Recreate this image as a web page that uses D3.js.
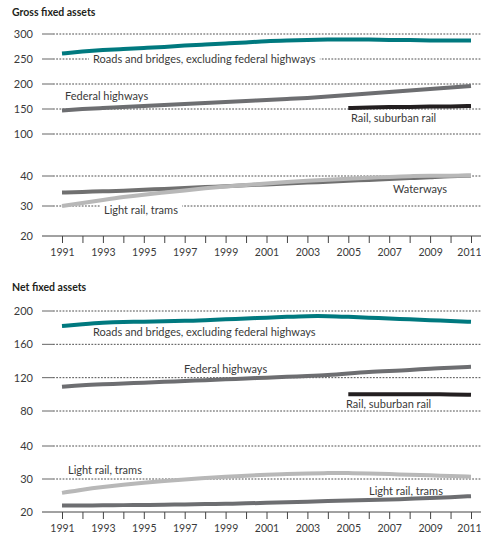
<!DOCTYPE html>
<html>
<head>
<meta charset="utf-8">
<script src="https://cdn.jsdelivr.net/npm/d3@7"></script>
<style>
    body { margin: 0; background: #fff; }
    svg { display: block; font-family: Lato, 'Open Sans', sans-serif; }
</style>
</head>
<body>
<svg width="481" height="542"></svg>
<script>
const years = d3.range(1991, 2012)
const railYears = d3.range(2005, 2012)
const yearLabels = d3.range(1991, 2012, 2)

// Gross fixed assets
const grossTicks = [20, 30, 40, 100, 150, 200, 250, 300]
const grossRoads = [261, 265, 268, 270, 272, 274, 277, 279, 281, 283, 286, 287, 288, 289, 289, 289, 288, 288, 287, 287, 287]
const grossFederal = [147, 150, 152, 154, 156, 158, 160, 162, 164, 166, 168, 170, 172, 175, 178, 181, 184, 187, 190, 193, 196]
const grossRail = [152, 153, 154, 154, 155, 155, 156]
const grossWaterways = [34.5, 34.7, 34.9, 35.1, 35.4, 35.7, 36.0, 36.3, 36.6, 36.9, 37.2, 37.5, 37.8, 38.1, 38.4, 38.7, 39.0, 39.3, 39.6, 40.0, 40.3]
const grossLightRail = [30.0, 31.0, 32.0, 33.0, 33.8, 34.5, 35.2, 35.9, 36.5, 37.0, 37.5, 38.0, 38.4, 38.8, 39.1, 39.4, 39.7, 40.0, 40.2, 40.4, 40.6]

// Net fixed assets
const netTicks = [20, 30, 40, 80, 120, 160, 200]
const netRoads = [182, 184, 186, 187, 187, 188, 188, 189, 190, 191, 192, 193, 194, 194, 193, 192, 191, 190, 189, 188, 187]
const netFederal = [109, 111, 112, 113, 114, 115, 116, 117, 118, 119, 120, 121, 122, 123, 125, 127, 128, 129, 131, 132, 133]
const netRail = [100, 100, 100, 100, 100, 100, 99.5]
const netLightRail = [25.8, 26.8, 27.6, 28.3, 28.9, 29.4, 29.9, 30.3, 30.7, 31.0, 31.3, 31.5, 31.7, 31.8, 31.8, 31.7, 31.5, 31.3, 31.1, 30.9, 30.7]
const netWaterways = [22.0, 22.0, 22.0, 22.1, 22.1, 22.2, 22.3, 22.4, 22.5, 22.6, 22.8, 23.0, 23.1, 23.3, 23.5, 23.6, 23.8, 24.0, 24.2, 24.5, 24.8]

const teal = '#00797f'
const mid = '#6d6e71'
const dark = '#231f20'
const light = '#b8b8b8'

const svg = d3.select('svg')
const left = 42
const gridStart = 53
const right = 481

const x = d3.scaleLinear().domain([1991, 2011]).range([62, 471])

const panels = [
    {
        title: 'Gross fixed assets',
        titleY: 16,
        ticks: grossTicks,
        // broken axis: piecewise scale
        y: d3.scaleLinear().domain([20, 40, 100, 300]).range([236, 176, 134, 34]),
        series: [
            { years: years, values: grossFederal, color: mid },
            { years: railYears, values: grossRail, color: dark },
            { years: years, values: grossRoads, color: teal },
            { years: years, values: grossWaterways, color: '#707070' },
            { years: years, values: grossLightRail, color: light },
        ],
        labels: [
            { text: 'Roads and bridges, excluding federal highways', x: 93, y: 63, bg: true },
            { text: 'Federal highways', x: 65, y: 100 },
            { text: 'Rail, suburban rail', x: 351, y: 122 },
            { text: 'Waterways', x: 393, y: 193 },
            { text: 'Light rail, trams', x: 104, y: 214, bg: true },
        ],
    },
    {
        title: 'Net fixed assets',
        titleY: 291,
        ticks: netTicks,
        y: d3.scaleLinear().domain([20, 40, 80, 200]).range([512, 446, 411, 311]),
        series: [
            { years: years, values: netFederal, color: mid },
            { years: railYears, values: netRail, color: dark },
            { years: years, values: netRoads, color: teal },
            { years: years, values: netWaterways, color: mid },
            { years: years, values: netLightRail, color: light },
        ],
        labels: [
            { text: 'Roads and bridges, excluding federal highways', x: 93, y: 336 },
            { text: 'Federal highways', x: 184, y: 373 },
            { text: 'Rail, suburban rail', x: 346, y: 408, bg: true },
            { text: 'Light rail, trams', x: 68, y: 474, bg: true },
            { text: 'Light rail, trams', x: 369, y: 495 },
        ],
    },
]

panels.forEach((p) => {
    const g = svg.append('g')
    const base = p.y(p.ticks[0])

    g.append('text')
        .attr('x', 12)
        .attr('y', p.titleY)
        .attr('font-size', '10.5px')
        .attr('font-weight', 'bold')
        .attr('fill', '#231f20')
        .text(p.title)

    // horizontal grid + tick labels
    const ticks = g.selectAll('g.ytick').data(p.ticks.slice(1)).join('g')
        .attr('class', 'ytick')
        .attr('transform', (d) => `translate(0, ${p.y(d)})`)
    ticks.append('line')
        .attr('x1', left).attr('x2', gridStart)
        .attr('stroke', '#666').attr('stroke-width', 1)
    ticks.append('line')
        .attr('x1', gridStart).attr('x2', right)
        .attr('stroke', '#222').attr('stroke-width', 0.8)
        .attr('stroke-dasharray', '1.8,1.4')

    g.selectAll('text.ylab').data(p.ticks).join('text')
        .attr('class', 'ylab')
        .attr('x', 33)
        .attr('y', (d) => p.y(d) + 4)
        .attr('text-anchor', 'end')
        .attr('font-size', '11px')
        .attr('fill', '#3a3a3a')
        .text((d) => d)

    // x axis
    const xAxis = d3.axisBottom(x)
        .tickValues(years)
        .tickSize(7)
        .tickSizeOuter(0)
        .tickFormat((d) => (yearLabels.includes(d) ? d : ''))
    const ax = g.append('g')
        .attr('transform', `translate(0, ${base})`)
        .call(xAxis)
    ax.select('.domain').remove()
    ax.selectAll('.tick line').attr('stroke', '#444')
    ax.selectAll('.tick text')
        .attr('font-family', 'Lato, sans-serif')
        .attr('font-size', '10.5px')
        .attr('fill', '#3a3a3a')
        .attr('dy', '0.95em')
        .attr('x', (d) => (d === 2011 ? -2 : 0))
    g.append('line')
        .attr('x1', left).attr('x2', right)
        .attr('y1', base).attr('y2', base)
        .attr('stroke', '#444').attr('stroke-width', 1)

    // labels with white backing where they sit on a grid line
    p.labels.forEach((l) => {
        const t = g.append('text')
            .attr('x', l.x).attr('y', l.y)
            .attr('font-size', '11px')
            .attr('fill', '#3a3a3a')
            .text(l.text)
        if (l.bg) {
            const b = t.node().getBBox()
            g.insert('rect', () => t.node())
                .attr('x', b.x - 4).attr('y', b.y)
                .attr('width', b.width + 8).attr('height', b.height)
                .attr('fill', '#fff')
        }
    })

    const line = d3.line()
        .x((d) => x(d[0]))
        .y((d) => p.y(d[1]))
        .curve(d3.curveBasis)

    g.selectAll('path.series').data(p.series).join('path')
        .attr('class', 'series')
        .attr('d', (s) => line(s.years.map((yr, i) => [yr, s.values[i]])))
        .attr('fill', 'none')
        .attr('stroke', (s) => s.color)
        .attr('stroke-width', 4)
})
</script>
</body>
</html>
